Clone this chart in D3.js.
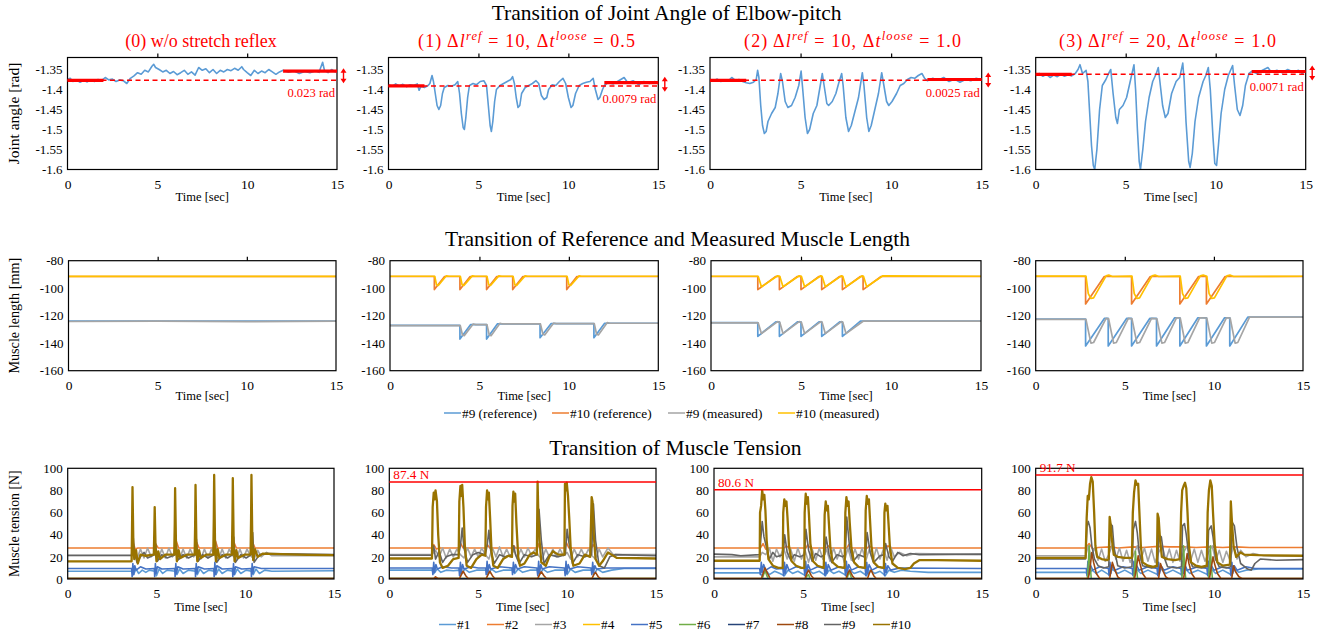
<!DOCTYPE html>
<html>
<head>
<meta charset="utf-8">
<script src="https://cdn.jsdelivr.net/npm/d3@7"></script>
<style>
  body { margin: 0; background: #fff; }
  svg { display: block; }
  text { font-family: "Liberation Serif", "Times New Roman", serif; }
</style>
</head>
<body>
<svg id="chart" width="1325" height="637"></svg>
<script>
// ---------- axis ticks ----------
const timeTicks = [0, 5, 10, 15];
const angleTicks = [-1.35, -1.4, -1.45, -1.5, -1.55, -1.6];
const lengthTicks = [-80, -100, -120, -140, -160];
const tensionTicks = [100, 80, 60, 40, 20, 0];

const subtitles = [
  { num: "(0)", plain: "w/o stretch reflex" },
  { num: "(1)", dl: "10", dt: "0.5" },
  { num: "(2)", dl: "10", dt: "1.0" },
  { num: "(3)", dl: "20", dt: "1.0" }
];

// ---------- joint angle [t, rad] ----------
const angle0 = [[0,-1.375],[0.15,-1.372],[0.3,-1.38],[0.5,-1.376],[0.7,-1.382],[0.9,-1.377],[1.1,-1.381],[1.3,-1.376],[1.5,-1.38],[1.7,-1.375],[1.9,-1.378],[2.1,-1.37],[2.3,-1.376],[2.5,-1.374],[2.7,-1.38],[2.9,-1.376],[3.1,-1.378],[3.3,-1.385],[3.5,-1.372],[3.7,-1.366],[3.9,-1.358],[4.1,-1.362],[4.3,-1.352],[4.5,-1.356],[4.7,-1.342],[4.8,-1.337],[4.9,-1.345],[5.1,-1.35],[5.3,-1.356],[5.5,-1.352],[5.7,-1.36],[5.9,-1.355],[6.1,-1.363],[6.3,-1.358],[6.5,-1.352],[6.7,-1.362],[6.9,-1.356],[7.1,-1.364],[7.3,-1.345],[7.5,-1.352],[7.7,-1.348],[7.9,-1.358],[8.1,-1.35],[8.3,-1.36],[8.5,-1.352],[8.7,-1.356],[8.9,-1.35],[9.1,-1.353],[9.3,-1.347],[9.5,-1.352],[9.7,-1.343],[9.8,-1.35],[10.0,-1.358],[10.2,-1.365],[10.4,-1.352],[10.6,-1.36],[10.8,-1.354],[11.0,-1.358],[11.2,-1.35],[11.4,-1.356],[11.6,-1.362],[11.8,-1.356],[12.0,-1.352],[12.3,-1.357],[12.6,-1.353],[12.9,-1.36],[13.2,-1.355],[13.5,-1.358],[13.8,-1.353],[14.0,-1.357],[14.2,-1.332],[14.3,-1.352],[14.5,-1.358],[14.7,-1.35],[14.9,-1.356],[15,-1.352]];
const angle1 = [[0,-1.388],[0.2,-1.392],[0.4,-1.386],[0.6,-1.391],[0.8,-1.387],[1.0,-1.393],[1.2,-1.388],[1.4,-1.39],[1.6,-1.386],[1.7,-1.402],[1.8,-1.392],[2.0,-1.395],[2.2,-1.39],[2.3,-1.385],[2.42,-1.365],[2.5,-1.38],[2.6,-1.41],[2.7,-1.44],[2.8,-1.45],[2.9,-1.44],[3.0,-1.41],[3.1,-1.395],[3.3,-1.39],[3.5,-1.392],[3.7,-1.388],[3.85,-1.38],[3.95,-1.41],[4.05,-1.46],[4.15,-1.495],[4.22,-1.5],[4.3,-1.47],[4.4,-1.42],[4.5,-1.39],[4.7,-1.385],[4.9,-1.388],[5.1,-1.38],[5.3,-1.378],[5.45,-1.39],[5.55,-1.44],[5.65,-1.49],[5.72,-1.505],[5.8,-1.48],[5.9,-1.43],[6.0,-1.4],[6.2,-1.39],[6.4,-1.385],[6.6,-1.38],[6.8,-1.375],[6.9,-1.368],[7.0,-1.385],[7.1,-1.42],[7.2,-1.445],[7.3,-1.44],[7.4,-1.41],[7.6,-1.395],[7.8,-1.39],[8.0,-1.385],[8.2,-1.378],[8.35,-1.385],[8.5,-1.415],[8.65,-1.425],[8.8,-1.42],[8.9,-1.4],[9.1,-1.388],[9.3,-1.39],[9.5,-1.38],[9.7,-1.372],[9.85,-1.385],[10.0,-1.42],[10.15,-1.445],[10.25,-1.44],[10.4,-1.41],[10.6,-1.39],[10.8,-1.385],[11.0,-1.382],[11.2,-1.38],[11.38,-1.372],[11.5,-1.4],[11.65,-1.425],[11.75,-1.42],[11.9,-1.4],[12.0,-1.39],[12.2,-1.383],[12.5,-1.386],[12.8,-1.378],[13.1,-1.37],[13.3,-1.383],[13.6,-1.378],[13.9,-1.388],[14.2,-1.38],[14.5,-1.385],[14.8,-1.38],[15,-1.384]];
const angle2 = [[0,-1.375],[0.2,-1.378],[0.4,-1.374],[0.6,-1.38],[0.8,-1.376],[1.0,-1.379],[1.2,-1.37],[1.4,-1.377],[1.6,-1.375],[1.8,-1.38],[2.0,-1.383],[2.2,-1.385],[2.4,-1.382],[2.55,-1.375],[2.63,-1.352],[2.7,-1.37],[2.8,-1.44],[2.9,-1.49],[3.0,-1.51],[3.1,-1.505],[3.2,-1.48],[3.4,-1.46],[3.6,-1.445],[3.75,-1.41],[3.9,-1.36],[4.0,-1.38],[4.15,-1.43],[4.3,-1.445],[4.5,-1.44],[4.7,-1.42],[4.9,-1.39],[5.03,-1.354],[5.12,-1.4],[5.25,-1.47],[5.38,-1.51],[5.5,-1.5],[5.7,-1.46],[5.9,-1.44],[6.05,-1.4],[6.2,-1.36],[6.3,-1.39],[6.45,-1.435],[6.55,-1.44],[6.75,-1.43],[6.95,-1.41],[7.1,-1.385],[7.27,-1.36],[7.35,-1.39],[7.5,-1.47],[7.65,-1.505],[7.8,-1.49],[8.0,-1.455],[8.2,-1.42],[8.41,-1.358],[8.5,-1.39],[8.65,-1.47],[8.77,-1.505],[8.9,-1.49],[9.1,-1.45],[9.3,-1.41],[9.48,-1.358],[9.6,-1.39],[9.75,-1.43],[9.87,-1.44],[10.05,-1.43],[10.3,-1.41],[10.5,-1.39],[10.7,-1.385],[10.9,-1.375],[11.1,-1.37],[11.3,-1.372],[11.5,-1.365],[11.7,-1.36],[11.85,-1.372],[12.0,-1.378],[12.3,-1.372],[12.6,-1.377],[12.9,-1.37],[13.2,-1.38],[13.5,-1.374],[13.8,-1.382],[14.1,-1.375],[14.4,-1.378],[14.7,-1.372],[15,-1.376]];
const angle3 = [[0,-1.365],[0.2,-1.36],[0.4,-1.367],[0.6,-1.362],[0.8,-1.37],[1.0,-1.364],[1.2,-1.368],[1.4,-1.362],[1.6,-1.367],[1.8,-1.363],[2.0,-1.366],[2.2,-1.36],[2.35,-1.35],[2.46,-1.338],[2.6,-1.36],[2.8,-1.352],[2.9,-1.38],[3.0,-1.46],[3.1,-1.54],[3.2,-1.59],[3.28,-1.6],[3.4,-1.55],[3.55,-1.45],[3.7,-1.39],[3.9,-1.375],[4.05,-1.36],[4.17,-1.35],[4.3,-1.41],[4.45,-1.47],[4.54,-1.485],[4.65,-1.45],[4.85,-1.44],[5.05,-1.42],[5.25,-1.38],[5.46,-1.338],[5.55,-1.4],[5.65,-1.5],[5.75,-1.58],[5.82,-1.6],[5.95,-1.55],[6.1,-1.48],[6.3,-1.42],[6.5,-1.38],[6.7,-1.36],[6.81,-1.345],[6.9,-1.38],[7.05,-1.44],[7.2,-1.47],[7.35,-1.46],[7.55,-1.41],[7.8,-1.38],[8.0,-1.37],[8.17,-1.334],[8.25,-1.38],[8.35,-1.48],[8.5,-1.58],[8.58,-1.595],[8.7,-1.56],[8.85,-1.48],[9.05,-1.42],[9.3,-1.38],[9.45,-1.365],[9.59,-1.345],[9.7,-1.4],[9.85,-1.52],[9.95,-1.585],[10.05,-1.59],[10.15,-1.54],[10.3,-1.46],[10.5,-1.4],[10.7,-1.365],[10.94,-1.34],[11.05,-1.39],[11.2,-1.45],[11.35,-1.465],[11.5,-1.44],[11.65,-1.39],[11.85,-1.36],[12.0,-1.355],[12.3,-1.36],[12.6,-1.352],[12.9,-1.345],[13.1,-1.357],[13.4,-1.352],[13.7,-1.358],[14.0,-1.35],[14.3,-1.356],[14.6,-1.352],[14.8,-1.36],[15,-1.354]];

// mean angle at start (0-2 s) and end (12-15 s), and the label
const angleStart = [-1.377, -1.391, -1.377, -1.362];
const angleEnd = [-1.354, -1.383, -1.375, -1.355];
const angleDiff = ["0.023 rad", "0.0079 rad", "0.0025 rad", "0.0071 rad"];

// ---------- muscle length [t, mm] ----------
const len0Ref9 = [[0,-124],[15,-124]];
const len0Ref10 = [[0,-91.5],[15,-91.5]];
const len0Meas9 = [[0,-124.2],[5,-124],[10,-124.3],[15,-124]];
const len0Meas10 = [[0,-91.4],[15,-91.4]];

const len1Ref9 = [[0,-127],[3.91,-127],[3.91,-137],[4.5,-126.5],[5.4,-126.5],[5.4,-137],[6.0,-126],[8.39,-126],[8.39,-136],[9.0,-125.8],[11.4,-125.8],[11.4,-136],[12.0,-125.5],[15,-125.5]];
const len1Ref10 = [[0,-91.5],[2.48,-91.5],[2.48,-101],[3.05,-91.5],[3.91,-91.5],[3.91,-101],[4.48,-91.5],[5.4,-91.5],[5.4,-101],[5.97,-91.5],[6.86,-91.5],[6.86,-101],[7.43,-91.5],[9.88,-91.5],[9.88,-101],[10.45,-91.5],[15,-91.5]];
const len1Meas9 = [[0,-127.2],[3.93,-127.2],[4.05,-134],[4.15,-134.5],[4.65,-126],[4.8,-126.5],[5.42,-126.5],[5.55,-134],[5.65,-134.5],[6.15,-125.5],[6.3,-126],[8.41,-126],[8.55,-133.5],[8.65,-134],[9.15,-125.3],[9.3,-125.8],[11.42,-125.8],[11.55,-133.5],[11.65,-134],[12.15,-125],[12.3,-125.5],[15,-125.5]];
const len1Meas10 = [[0,-91.3],[2.5,-91.3],[2.6,-97.5],[2.7,-98],[3.15,-91],[3.3,-91.3],[3.93,-91.3],[4.03,-97.5],[4.13,-98],[4.6,-91],[4.75,-91.3],[5.42,-91.3],[5.52,-97.5],[5.62,-98],[6.08,-91],[6.25,-91.3],[6.88,-91.3],[6.98,-97.5],[7.08,-98],[7.55,-91],[7.7,-91.3],[9.9,-91.3],[10.0,-97.5],[10.1,-98],[10.57,-91],[10.7,-91.3],[15,-91.3]];

const len2Ref9 = [[0,-125],[2.6,-125],[2.6,-135],[3.6,-124.5],[3.8,-124.5],[3.8,-135],[4.8,-124.5],[5.0,-124.5],[5.0,-135],[6.0,-124.5],[6.15,-124.5],[6.15,-135],[7.15,-124.5],[7.3,-124.5],[7.3,-135],[8.3,-124],[15,-124]];
const len2Ref10 = [[0,-91.5],[2.6,-91.5],[2.6,-101],[3.6,-91.5],[3.8,-91.5],[3.8,-101],[4.8,-91.5],[5.0,-91.5],[5.0,-101],[6.0,-91.5],[6.15,-91.5],[6.15,-101],[7.15,-91.5],[7.3,-91.5],[7.3,-101],[8.3,-91.5],[8.45,-91.5],[8.45,-101],[9.45,-91.5],[15,-91.5]];
const len2Meas9 = [[0,-125.2],[2.62,-125.2],[2.8,-133],[3.7,-124.3],[3.82,-124.8],[4.0,-133],[4.9,-124.3],[5.02,-124.8],[5.2,-133],[6.1,-124.3],[6.17,-124.8],[6.35,-133],[7.25,-124.3],[7.32,-124.8],[7.5,-133],[8.45,-124],[15,-124]];
const len2Meas10 = [[0,-91.3],[2.62,-91.3],[2.8,-99],[3.7,-91],[3.82,-91.3],[4.0,-99],[4.9,-91],[5.02,-91.3],[5.2,-99],[6.1,-91],[6.17,-91.3],[6.35,-99],[7.25,-91],[7.32,-91.3],[7.5,-99],[8.4,-91],[8.47,-91.3],[8.65,-99],[9.55,-91],[15,-91.3]];

const len3Ref9 = [[0,-122.5],[2.8,-122.5],[2.8,-142],[3.85,-122],[4.07,-122],[4.07,-142],[5.1,-122],[5.38,-122],[5.38,-142],[6.4,-122],[6.78,-122],[6.78,-142],[7.8,-121.5],[8.09,-121.5],[8.09,-142],[9.1,-121.5],[9.58,-121.5],[9.58,-142],[10.6,-121.5],[10.89,-121.5],[10.89,-142],[11.9,-121],[15,-121]];
const len3Ref10 = [[0,-91.5],[2.8,-91.5],[2.8,-111.5],[3.85,-91.5],[5.38,-91.5],[5.38,-111.5],[6.43,-91.5],[8.09,-91.5],[8.09,-111.5],[9.14,-91.5],[9.58,-91.5],[9.58,-111.5],[10.63,-91.5],[15,-91.5]];
const len3Meas9 = [[0,-122.7],[2.82,-122.7],[3.1,-140],[3.25,-139.5],[3.95,-122],[4.09,-122.2],[4.37,-140],[4.52,-139.5],[5.2,-122],[5.4,-122.2],[5.68,-140],[5.83,-139.5],[6.5,-122],[6.8,-122.2],[7.08,-140],[7.23,-139.5],[7.9,-121.5],[8.11,-121.7],[8.39,-140],[8.54,-139.5],[9.2,-121.5],[9.6,-121.7],[9.88,-140],[10.03,-139.5],[10.7,-121.5],[10.91,-121.7],[11.19,-140],[11.34,-139.5],[12.0,-121],[15,-121]];
const len3Meas10 = [[0,-91.2],[2.82,-91.2],[2.95,-104],[3.1,-107.5],[3.25,-107],[3.95,-91],[4.1,-90.5],[4.3,-91.5],[5.4,-91.2],[5.53,-104],[5.68,-107.5],[5.83,-107],[6.53,-91],[6.7,-90.5],[6.9,-91.5],[8.11,-91.2],[8.24,-104],[8.39,-107.5],[8.54,-107],[9.24,-91],[9.4,-90.5],[9.6,-91.3],[9.73,-104],[9.88,-107.5],[10.03,-107],[10.73,-91],[10.9,-90.5],[11.1,-91.5],[15,-91.3]];

const lengthNames = ["#9 (reference)", "#10 (reference)", "#9 (measured)", "#10 (measured)"];
const lengthColors = ["#5B9BD5", "#ED7D31", "#A5A5A5", "#FFC000"];

// ---------- muscle tension [t, N], series #1 .. #10 ----------
const zero = [[0,0.3],[15,0.3]];

const ten0 = [
  [[0,7],[3.6,7],[3.7,4],[3.85,9],[4.0,5],[4.2,8],[4.4,6],[4.6,8],[4.9,7],[5.0,3],[5.15,9],[5.35,5],[5.6,8],[6.05,7],[6.15,4],[6.3,9],[6.5,5],[6.8,8],[7.2,7],[7.3,4],[7.45,9],[7.65,5],[7.95,8],[8.25,7],[8.35,4],[8.5,9],[8.7,5],[9.0,8],[9.3,7],[9.4,4],[9.55,9],[9.75,5],[10.05,8],[10.35,7],[10.45,4],[10.6,9],[10.8,5],[11.1,8],[11.5,7],[15,7.5]],
  [[0,28],[3.6,28],[3.7,32],[3.8,27],[3.95,28],[4.9,28],[4.98,31],[5.1,28],[6.05,28],[6.12,34],[6.25,28],[7.2,28],[7.27,33],[7.4,28],[8.25,28],[8.33,34],[8.45,28],[9.3,28],[9.37,33],[9.5,28],[10.35,28],[10.42,33],[10.55,28],[15,28]],
  [[0,21],[3.6,21],[3.7,24],[3.9,18],[4.1,27],[4.3,19],[4.5,28],[4.7,20],[4.9,24],[5.1,18],[5.3,27],[5.5,19],[5.7,28],[5.9,20],[6.1,24],[6.3,18],[6.5,27],[6.7,19],[6.9,27],[7.1,20],[7.3,24],[7.5,18],[7.7,27],[7.9,19],[8.1,27],[8.3,21],[8.5,18],[8.7,27],[8.9,19],[9.1,27],[9.3,21],[9.5,18],[9.7,27],[9.9,19],[10.1,27],[10.3,21],[10.5,18],[10.7,26],[10.9,20],[11.2,24],[11.5,21],[15,21]],
  zero,
  [[0,9.5],[3.6,9.5],[3.63,2],[3.67,14],[3.72,4],[3.78,12],[3.85,8],[4.1,11],[4.4,9],[4.88,9.5],[4.9,2],[4.94,14],[4.98,5],[5.05,11],[5.3,9],[6.03,9.5],[6.05,2],[6.09,14],[6.13,5],[6.2,11],[6.5,9],[7.18,9.5],[7.2,2],[7.24,14],[7.28,5],[7.35,11],[7.7,9],[8.23,9.5],[8.25,2],[8.29,15],[8.33,4],[8.4,12],[8.7,9],[9.28,9.5],[9.3,2],[9.34,14],[9.38,4],[9.45,11],[9.8,9],[10.33,9.5],[10.35,2],[10.39,14],[10.43,5],[10.5,11],[10.9,9.5],[15,9.5]],
  zero,
  zero,
  [[0,0.5],[15,0.5]],
  [[0,21.5],[3.6,21.5],[3.68,40],[3.75,25],[3.9,15],[4.1,20],[4.3,24],[4.5,19],[4.9,22],[4.95,32],[5.05,16],[5.3,22],[5.6,19],[6.05,22],[6.1,35],[6.2,17],[6.5,22],[6.8,19],[7.2,22],[7.25,36],[7.35,16],[7.6,22],[7.9,19],[8.25,22],[8.3,38],[8.4,15],[8.7,22],[9.0,19],[9.3,22],[9.35,38],[9.45,15],[9.75,22],[10.05,19],[10.35,22],[10.42,42],[10.5,15],[10.8,22],[11.2,23],[15,22]],
  [[0,16],[3.6,16],[3.62,40],[3.65,83],[3.7,30],[3.75,18],[3.85,26],[3.95,14],[4.1,22],[4.4,21],[4.85,22],[4.88,45],[4.9,65],[4.95,28],[5.0,16],[5.1,25],[5.2,18],[5.5,22],[6.0,22],[6.03,50],[6.05,82],[6.1,30],[6.15,16],[6.25,26],[6.35,19],[6.7,22],[7.15,22],[7.18,50],[7.2,85],[7.25,30],[7.3,16],[7.4,26],[7.5,19],[7.8,22],[8.2,22],[8.23,55],[8.25,94],[8.3,30],[8.35,16],[8.45,27],[8.55,19],[8.9,22],[9.25,22],[9.28,55],[9.3,91],[9.35,30],[9.4,16],[9.5,26],[9.6,19],[9.95,22],[10.3,22],[10.33,55],[10.35,94],[10.4,32],[10.45,17],[10.55,27],[10.7,20],[11.0,23],[12.0,22.5],[13.5,21.8],[15,21.5]]
];

const ten1 = [
  [[0,8],[2.4,8],[2.5,5],[2.7,9],[2.9,6],[3.2,8],[3.6,7.5],[3.94,8],[4.05,4],[4.25,9],[4.5,6],[4.9,8],[5.44,8],[5.55,4],[5.75,9],[6.0,6],[6.4,8],[6.92,8],[7.05,5],[7.25,9],[7.5,6],[7.9,8],[8.34,8],[8.45,4],[8.65,9],[8.9,6],[9.3,8],[9.88,8],[10.0,4],[10.2,9],[10.45,6],[10.9,8],[11.38,8],[11.5,4],[11.7,9],[12.0,6],[12.5,8],[13.2,9.5],[15,9.5]],
  [[0,28],[2.4,28],[2.5,31],[2.65,27],[2.8,28],[3.94,28],[4.02,32],[4.15,28],[5.44,28],[5.52,31],[5.65,28],[6.92,28],[7.0,30],[7.1,28],[8.34,28],[8.42,32],[8.55,28],[9.88,28],[9.96,33],[10.1,28],[11.38,28],[11.46,31],[11.6,28],[15,28]],
  [[0,22],[2.4,22],[2.6,26],[2.8,20],[3.0,28],[3.2,19],[3.4,27],[3.6,20],[3.8,27],[4.0,22],[4.2,19],[4.4,28],[4.6,20],[4.8,27],[5.0,20],[5.2,28],[5.4,22],[5.6,18],[5.8,28],[6.0,20],[6.2,29],[6.4,20],[6.6,27],[6.8,20],[7.0,26],[7.2,19],[7.4,27],[7.6,20],[7.8,28],[8.0,21],[8.2,27],[8.4,21],[8.6,18],[8.8,27],[9.0,20],[9.2,27],[9.4,20],[9.6,27],[9.8,21],[10.0,24],[10.2,18],[10.4,27],[10.6,20],[10.8,27],[11.0,20],[11.2,27],[11.4,21],[11.6,18],[11.8,27],[12.0,20],[12.3,28],[12.6,22],[15,22]],
  zero,
  [[0,10],[2.42,10],[2.45,4],[2.5,15],[2.55,6],[2.62,13],[2.7,9],[3.0,11],[3.5,10],[3.92,10],[3.95,3],[4.0,15],[4.05,5],[4.12,13],[4.2,9],[4.6,11],[5.0,10],[5.42,10],[5.45,4],[5.5,16],[5.55,6],[5.62,13],[5.7,9],[6.2,11],[6.9,10],[6.93,4],[6.98,15],[7.03,6],[7.1,13],[7.2,9],[7.6,11],[8.3,10],[8.35,3],[8.4,16],[8.45,5],[8.52,13],[8.6,9],[9.0,11],[9.85,10],[9.89,3],[9.94,16],[9.99,5],[10.06,13],[10.15,9],[10.6,11],[11.35,10],[11.39,4],[11.44,15],[11.49,6],[11.56,12],[11.65,9],[12.2,10],[15,10]],
  zero,
  zero,
  [[0,0.3],[2.5,0.3],[2.6,2],[2.75,0.3],[3.95,0.3],[4.05,4],[4.15,7],[4.3,3],[4.45,0.3],[5.45,0.3],[5.55,4],[5.65,7],[5.8,3],[5.95,0.3],[8.35,0.3],[8.45,4],[8.55,6.5],[8.7,3],[8.85,0.3],[11.4,0.3],[11.5,4],[11.6,6],[11.75,2],[11.9,0.3],[15,0.3]],
  [[0,21.5],[2.4,21.5],[2.5,30],[2.6,18],[2.8,25],[3.0,15],[3.2,20],[3.5,22],[3.9,22],[4.0,30],[4.1,46],[4.2,28],[4.4,15],[4.7,22],[5.0,24],[5.4,22],[5.5,30],[5.6,44],[5.7,26],[5.9,14],[6.2,22],[6.5,20],[6.9,22],[7.0,30],[7.1,22],[7.3,14],[7.6,22],[8.0,20],[8.3,22],[8.42,63],[8.55,35],[8.7,14],[9.0,22],[9.5,20],[9.9,22],[10.0,45],[10.1,33],[10.3,14],[10.6,22],[11.0,20],[11.38,22],[11.48,68],[11.6,35],[11.8,12],[12.1,10],[12.4,20],[12.7,22],[15,21]],
  [[0,18.5],[2.4,18.5],[2.44,65],[2.5,78],[2.55,72],[2.6,80],[2.68,70],[2.75,40],[2.85,15],[3.0,10],[3.3,12],[3.6,18],[3.9,19],[3.94,70],[4.0,84],[4.05,75],[4.1,85],[4.17,65],[4.25,30],[4.35,12],[4.6,10],[4.9,18],[5.2,22],[5.4,21],[5.44,65],[5.5,80],[5.55,72],[5.6,78],[5.67,55],[5.75,25],[5.85,12],[6.1,10],[6.4,18],[6.7,21],[6.9,20],[6.93,66],[6.98,79],[7.03,70],[7.08,77],[7.15,50],[7.25,20],[7.35,12],[7.6,14],[7.9,22],[8.1,24],[8.3,22],[8.34,88],[8.38,60],[8.45,35],[8.55,15],[8.8,12],[9.0,20],[9.2,25],[9.5,22],[9.85,22],[9.88,86],[9.93,80],[9.98,87],[10.05,75],[10.12,55],[10.2,28],[10.35,12],[10.7,14],[11.0,22],[11.3,20],[11.38,74],[11.43,70],[11.5,40],[11.6,18],[11.8,12],[12.0,16],[12.3,24],[12.5,22],[12.8,19],[15,18.5]]
];

const ten2 = [
  [[0,5.5],[2.56,5.5],[2.7,3],[2.9,8],[3.1,4],[3.4,7],[3.7,5],[3.95,3],[4.15,8],[4.4,5],[4.7,7],[5.12,3],[5.3,8],[5.55,5],[5.9,7],[6.25,3],[6.45,8],[6.7,5],[7.0,7],[7.43,3],[7.6,8],[7.85,5],[8.2,7],[8.55,3],[8.75,8],[9.0,5],[9.3,7],[9.6,3],[9.8,8],[10.1,6],[10.5,8],[11.0,7],[12,6],[15,6]],
  [[0,28],[2.6,28],[2.75,32],[2.9,27],[3.1,28],[3.95,28],[4.05,30],[4.2,28],[5.15,28],[5.25,31],[5.4,28],[6.3,28],[6.4,30],[6.55,28],[7.45,28],[7.55,31],[7.7,28],[8.6,28],[8.7,30],[8.85,28],[9.65,28],[9.75,30],[9.9,28],[15,28]],
  [[0,20],[2.56,20],[2.7,24],[2.9,22],[3.1,28],[3.3,16],[3.5,27],[3.7,20],[3.9,28],[4.1,18],[4.3,27],[4.5,16],[4.7,28],[4.9,18],[5.1,26],[5.3,15],[5.5,27],[5.7,17],[5.9,28],[6.1,18],[6.3,27],[6.5,16],[6.7,28],[6.9,18],[7.1,27],[7.3,15],[7.5,28],[7.7,17],[7.9,27],[8.1,18],[8.3,28],[8.5,16],[8.7,27],[8.9,16],[9.1,28],[9.3,18],[9.5,27],[9.7,17],[9.9,29],[10.1,20],[10.4,24],[10.8,21],[11.3,23],[15,22]],
  zero,
  [[0,9.5],[2.56,9.5],[2.6,4],[2.65,15],[2.7,6],[2.78,13],[2.9,8],[3.2,11],[3.5,9],[3.86,9.5],[3.9,3],[3.95,15],[4.0,5],[4.08,13],[4.2,8],[4.6,11],[5.05,9.5],[5.09,3],[5.14,16],[5.19,5],[5.27,13],[5.4,8],[5.8,11],[6.18,9.5],[6.22,3],[6.27,15],[6.32,5],[6.4,13],[6.55,8],[7.0,11],[7.33,9.5],[7.37,3],[7.42,16],[7.47,5],[7.55,13],[7.7,8],[8.1,11],[8.47,9.5],[8.51,3],[8.56,15],[8.61,5],[8.69,13],[8.85,8],[9.2,11],[9.52,9.5],[9.56,3],[9.61,14],[9.66,6],[9.74,12],[9.9,8],[10.4,10],[15,9.5]],
  [[0,0],[2.7,0],[2.8,5],[2.88,7],[2.96,3],[3.05,0],[5.15,0],[5.22,3],[5.3,4],[5.38,0],[7.45,0],[7.52,4],[7.6,6],[7.68,2],[7.75,0],[15,0]],
  zero,
  [[0,0.3],[2.65,0.3],[2.75,5],[2.85,10],[3.0,5],[3.15,0.3],[5.1,0.3],[5.2,5],[5.3,8],[5.45,3],[5.6,0.3],[7.4,0.3],[7.5,5],[7.6,8],[7.75,3],[7.9,0.3],[8.6,0.3],[8.7,5],[8.8,8],[8.95,3],[9.1,0.3],[15,0.3]],
  [[0,22.5],[1.0,22],[1.5,21],[2.56,22],[2.62,35],[2.7,52],[2.8,38],[2.95,28],[3.1,18],[3.3,24],[3.5,20],[3.88,22],[3.96,40],[4.1,24],[4.3,17],[4.5,22],[4.8,20],[5.08,22],[5.15,45],[5.3,26],[5.5,16],[5.7,23],[6.0,20],[6.2,22],[6.28,38],[6.45,22],[6.6,15],[6.9,22],[7.2,20],[7.36,22],[7.44,56],[7.6,28],[7.8,16],[8.1,22],[8.4,20],[8.5,22],[8.58,42],[8.75,24],[8.95,15],[9.3,21],[9.55,22],[9.62,32],[9.8,20],[10.0,16],[10.3,24],[10.6,21],[11.0,23],[11.5,22],[15,22.5]],
  [[0,16.5],[2.56,16.5],[2.58,60],[2.64,66],[2.7,80],[2.76,72],[2.82,76],[2.88,62],[2.95,35],[3.05,18],[3.3,12],[3.6,10],[3.85,10],[3.88,60],[3.94,72],[4.0,66],[4.06,70],[4.12,55],[4.2,30],[4.35,16],[4.6,12],[4.9,10],[5.06,10],[5.08,60],[5.14,77],[5.2,68],[5.26,74],[5.32,58],[5.4,32],[5.55,16],[5.8,12],[6.15,10],[6.2,58],[6.26,70],[6.32,62],[6.38,66],[6.44,50],[6.52,28],[6.65,15],[6.95,11],[7.32,10],[7.36,60],[7.42,74],[7.48,66],[7.54,70],[7.6,52],[7.7,28],[7.85,15],[8.1,11],[8.46,10],[8.5,62],[8.56,75],[8.62,68],[8.68,72],[8.74,54],[8.82,30],[8.95,15],[9.2,11],[9.52,10],[9.55,60],[9.6,68],[9.66,62],[9.72,66],[9.78,50],[9.86,28],[10.0,14],[10.3,10],[10.7,9],[11.0,10],[11.2,14],[11.5,17],[12.5,17],[15,16.5]]
];

const ten3 = [
  [[0,6],[2.8,6],[2.95,3],[3.15,8],[3.4,5],[3.7,8],[4.1,4],[4.3,9],[4.6,5],[5.0,8],[5.45,4],[5.65,9],[5.9,5],[6.3,8],[6.84,4],[7.05,9],[7.3,5],[7.7,8],[8.18,4],[8.4,9],[8.65,5],[9.1,8],[9.64,4],[9.85,9],[10.1,5],[10.5,8],[10.95,4],[11.15,9],[11.4,6],[11.8,8],[12.5,9],[15,9]],
  [[0,28],[2.8,28],[3.0,32],[3.2,27],[3.5,28.5],[4.2,29],[4.6,28],[5.5,29],[6.0,28.5],[6.9,29.5],[7.5,29],[8.3,29],[9.0,28.5],[9.8,29],[10.5,28.5],[11.2,29],[12,28.5],[15,28.5]],
  [[0,21],[2.8,21],[2.95,30],[3.1,20],[3.3,28],[3.5,17],[3.7,27],[3.9,16],[4.1,22],[4.3,31],[4.5,18],[4.7,28],[4.9,16],[5.1,26],[5.3,15],[5.5,22],[5.7,30],[5.9,17],[6.1,28],[6.3,16],[6.5,27],[6.7,15],[6.9,24],[7.1,30],[7.3,17],[7.5,27],[7.7,15],[7.9,26],[8.1,16],[8.3,24],[8.5,30],[8.7,17],[8.9,27],[9.1,15],[9.3,26],[9.5,16],[9.7,24],[9.9,30],[10.1,17],[10.3,26],[10.5,15],[10.7,25],[10.9,17],[11.1,30],[11.3,18],[11.5,26],[11.8,20],[12.2,23],[12.8,21],[15,20.5]],
  zero,
  [[0,9.5],[2.84,9.5],[2.88,3],[2.93,16],[2.98,5],[3.06,13],[3.2,8],[3.6,11],[4.08,9.5],[4.12,3],[4.17,15],[4.22,5],[4.3,12],[4.45,8],[4.9,11],[5.42,9.5],[5.46,3],[5.51,16],[5.56,5],[5.64,13],[5.8,8],[6.3,11],[6.81,9.5],[6.85,3],[6.9,15],[6.95,5],[7.03,12],[7.2,8],[7.7,11],[8.15,9.5],[8.19,3],[8.24,16],[8.29,5],[8.37,13],[8.5,8],[9.1,11],[9.61,9.5],[9.65,3],[9.7,16],[9.75,5],[9.83,13],[10.0,8],[10.5,11],[10.92,9.5],[10.96,3],[11.01,15],[11.06,5],[11.14,12],[11.3,8],[11.8,11],[12.3,9.5],[15,9.5]],
  [[0,0],[2.9,0],[2.96,15],[3.0,30],[3.05,14],[3.12,0],[5.5,0],[5.56,12],[5.6,25],[5.65,10],[5.72,0],[8.2,0],[8.26,14],[8.3,30],[8.35,12],[8.42,0],[9.7,0],[9.76,14],[9.8,30],[9.85,12],[9.92,0],[15,0]],
  zero,
  [[0,0.3],[2.95,0.3],[3.05,10],[3.15,24],[3.25,15],[3.4,5],[3.6,0.3],[4.15,0.3],[4.3,15],[4.45,8],[4.6,2],[4.75,0.3],[5.55,0.3],[5.65,10],[5.75,21],[5.85,14],[6.0,5],[6.2,0.3],[6.9,0.3],[7.0,14],[7.15,7],[7.3,2],[7.45,0.3],[8.3,0.3],[8.4,12],[8.5,23],[8.6,14],[8.75,5],[8.95,0.3],[9.75,0.3],[9.85,10],[9.95,20],[10.05,13],[10.2,5],[10.4,0.3],[11.0,0.3],[11.1,12],[11.2,7],[11.4,2],[11.6,0.3],[15,0.3]],
  [[0,18],[2.8,18],[2.88,48],[2.95,52],[3.05,46],[3.15,30],[3.3,18],[3.5,12],[3.8,10],[4.1,11],[4.18,50],[4.3,48],[4.4,28],[4.6,12],[5.0,10],[5.4,11],[5.48,45],[5.6,52],[5.7,42],[5.8,25],[6.0,12],[6.5,10],[6.84,11],[6.9,40],[7.05,38],[7.2,20],[7.4,11],[7.9,10],[8.18,11],[8.24,48],[8.35,50],[8.45,40],[8.6,20],[8.8,11],[9.3,10],[9.64,11],[9.7,44],[9.85,48],[9.95,38],[10.1,18],[10.3,11],[10.7,10],[10.95,11],[11.0,52],[11.15,48],[11.3,28],[11.5,14],[11.9,9],[12.1,8],[12.3,14],[12.6,18],[13.5,17],[15,17.5]],
  [[0,19],[2.8,19],[2.86,55],[2.92,75],[2.98,72],[3.05,86],[3.12,92],[3.2,88],[3.28,60],[3.35,30],[3.45,20],[3.7,18],[4.0,17],[4.1,18],[4.15,56],[4.2,50],[4.28,35],[4.38,22],[4.6,20],[5.0,19],[5.4,19],[5.45,60],[5.52,78],[5.6,89],[5.68,85],[5.75,86],[5.82,60],[5.9,30],[6.0,15],[6.3,12],[6.6,11],[6.8,12],[6.84,59],[6.9,55],[6.98,35],[7.08,20],[7.4,18],[7.8,17],[8.1,18],[8.16,60],[8.22,80],[8.3,84],[8.38,87],[8.45,82],[8.52,60],[8.6,30],[8.72,15],[9.0,12],[9.3,11],[9.6,12],[9.65,60],[9.72,80],[9.8,89],[9.88,84],[9.95,60],[10.05,30],[10.2,15],[10.5,12],[10.9,13],[10.95,70],[11.0,55],[11.1,30],[11.25,20],[11.5,24],[11.7,22],[12.5,21.5],[15,21]]
];

const tensionNames = ["#1","#2","#3","#4","#5","#6","#7","#8","#9","#10"];
const tensionColors = ["#5B9BD5","#ED7D31","#A5A5A5","#FFC000","#4472C4","#70AD47","#264478","#9E480E","#636363","#997300"];
// peak tension line and label (panels 1-3)
const tensionMax = [null, 87.6, 80.6, 94];
const tensionMaxLabel = [null, "87.4 N", "80.6 N", "91.7 N"];

// ---------- layout ----------
const svg = d3.select("#chart");
const rowBoxes = [
  { t: 57.5, b: 169.5, timeY: 31.5, cols: [[67.5, 337], [388.5, 658.3], [710, 981.7], [1035.7, 1305.7]] },
  { t: 260.7, b: 370.7, timeY: 29, cols: [[68.5, 336], [390, 658.3], [711, 981], [1035.7, 1303]] },
  { t: 468.3, b: 579, timeY: 32, cols: [[67.7, 334], [389.3, 656], [714, 981.7], [1035.7, 1303]] }
];
let clipId = 0;

function drawPanel(row, col, yDomain, yTickVals, series, topTicks) {
  const rb = rowBoxes[row];
  const [l, r] = rb.cols[col];
  const x = d3.scaleLinear().domain([0, 15]).range([l, r]);
  const y = d3.scaleLinear().domain(yDomain).range([rb.b, rb.t]);
  const g = svg.append("g");

  const id = "clip" + (clipId++);
  svg.append("clipPath").attr("id", id)
    .append("rect").attr("x", l).attr("y", rb.t).attr("width", r - l).attr("height", rb.b - rb.t);

  const line = d3.line().x(d => x(d[0])).y(d => y(d[1]));
  const lines = g.append("g").attr("clip-path", `url(#${id})`);
  series.forEach(s => {
    lines.append("path")
      .attr("d", line(s.data))
      .attr("fill", "none")
      .attr("stroke", s.color)
      .attr("stroke-width", s.w || 1.5)
      .attr("stroke-linejoin", "round");
  });

  g.append("rect")
    .attr("x", l).attr("y", rb.t).attr("width", r - l).attr("height", rb.b - rb.t)
    .attr("fill", "none").attr("stroke", "#000").attr("stroke-width", 1.2);

  const ya = g.append("g").attr("transform", `translate(${l},0)`)
    .call(d3.axisLeft(y).tickValues(yTickVals).tickSize(0).tickPadding(5).tickFormat(d => String(d)));
  ya.select(".domain").remove();
  ya.selectAll("text").attr("font-size", 13).attr("fill", "#000")
    .style("font-family", "'Liberation Serif', serif");

  const xa = g.append("g").attr("transform", `translate(0,${rb.b})`)
    .call(d3.axisBottom(x).tickValues(timeTicks).tickSize(0).tickFormat(d3.format("d")));
  xa.select(".domain").remove();
  xa.selectAll("text").attr("font-size", 13.5).attr("fill", "#000").attr("y", 19).attr("dy", 0)
    .style("font-family", "'Liberation Serif', serif");

  if (topTicks) {
    const ta = g.append("g").attr("transform", `translate(0,${rb.t})`)
      .call(d3.axisTop(x).tickValues([5, 10]).tickSize(4).tickFormat(""));
    ta.select(".domain").remove();
    ta.selectAll("line").attr("stroke", "#000").attr("stroke-width", 1.2);
  }

  g.append("text")
    .attr("x", (l + r) / 2).attr("y", rb.b + rb.timeY)
    .attr("text-anchor", "middle").attr("font-size", 12.5)
    .text("Time [sec]");

  return { x, y, l, r, t: rb.t, b: rb.b };
}

function yLabel(row, text, size, bx) {
  const rb = rowBoxes[row];
  svg.append("text")
    .attr("transform", `translate(${bx},${(rb.t + rb.b) / 2}) rotate(-90)`)
    .attr("text-anchor", "middle").attr("font-size", size)
    .text(text);
}

function title(text, x, y) {
  svg.append("text").attr("x", x).attr("y", y).attr("font-size", 21.5).text(text);
}

// ---------- row 1: joint angle ----------
title("Transition of Joint Angle of Elbow-pitch", 491.7, 20);
const subCenters = [201, 526.5, 852.5, 1167.5];
const angles = [angle0, angle1, angle2, angle3];

angles.forEach((data, i) => {
  const p = drawPanel(0, i, [-1.6, -1.32], angleTicks, [{ data, color: "#5B9BD5", w: 1.6 }], true);

  // reference levels
  const red = "#FF0000";
  svg.append("line").attr("x1", p.x(0)).attr("x2", p.x(15))
    .attr("y1", p.y(angleStart[i])).attr("y2", p.y(angleStart[i]))
    .attr("stroke", red).attr("stroke-width", 1.5).attr("stroke-dasharray", "5,3.5");
  svg.append("line").attr("x1", p.x(0)).attr("x2", p.x(2))
    .attr("y1", p.y(angleStart[i])).attr("y2", p.y(angleStart[i]))
    .attr("stroke", red).attr("stroke-width", 3.2);
  svg.append("line").attr("x1", p.x(12)).attr("x2", p.x(15))
    .attr("y1", p.y(angleEnd[i])).attr("y2", p.y(angleEnd[i]))
    .attr("stroke", red).attr("stroke-width", 3.2);

  // double arrow
  const mid = (p.y(angleStart[i]) + p.y(angleEnd[i])) / 2;
  const ax = p.r + 6.5;
  const y1 = mid - 7.5, y2 = mid + 7.5;
  svg.append("line").attr("x1", ax).attr("x2", ax).attr("y1", y1 + 3).attr("y2", y2 - 3)
    .attr("stroke", red).attr("stroke-width", 1.4);
  svg.append("path").attr("d", `M${ax},${y1} L${ax - 3},${y1 + 4.5} L${ax + 3},${y1 + 4.5} Z`).attr("fill", red);
  svg.append("path").attr("d", `M${ax},${y2} L${ax - 3},${y2 - 4.5} L${ax + 3},${y2 - 4.5} Z`).attr("fill", red);

  svg.append("text").attr("x", p.r - 2).attr("y", p.y(angleStart[i]) + 17)
    .attr("text-anchor", "end").attr("font-size", 12.6).attr("fill", red)
    .text(angleDiff[i]);

  // subtitle
  const s = subtitles[i];
  const st = svg.append("text").attr("x", subCenters[i]).attr("y", 47)
    .attr("text-anchor", "middle").attr("font-size", 18).attr("fill", red);
  if (s.plain) {
    st.text(`${s.num} ${s.plain}`);
  } else {
    st.attr("textLength", 217).attr("lengthAdjust", "spacing");
    st.append("tspan").text(`${s.num} Δ`);
    st.append("tspan").attr("font-style", "italic").text("l");
    st.append("tspan").attr("font-style", "italic").attr("font-size", 12.5).attr("dy", -7).text("ref");
    st.append("tspan").attr("dy", 7).text(` = ${s.dl}, Δ`);
    st.append("tspan").attr("font-style", "italic").text("t");
    st.append("tspan").attr("font-style", "italic").attr("font-size", 12.5).attr("dy", -7).text("loose");
    st.append("tspan").attr("dy", 7).text(` = ${s.dt}`);
  }
});
yLabel(0, "Joint angle [rad]", 15.5, 19);

// ---------- row 2: muscle length ----------
title("Transition of Reference and Measured Muscle Length", 445, 246);
const lengths = [
  [len0Ref9, len0Ref10, len0Meas9, len0Meas10],
  [len1Ref9, len1Ref10, len1Meas9, len1Meas10],
  [len2Ref9, len2Ref10, len2Meas9, len2Meas10],
  [len3Ref9, len3Ref10, len3Meas9, len3Meas10]
];
lengths.forEach((set, i) => {
  drawPanel(1, i, [-160, -80], lengthTicks,
    set.map((data, k) => ({ data, color: lengthColors[k], w: 1.7 })), true);
});
yLabel(1, "Muscle length [mm]", 14.2, 19);

const legend1X = [444, 552, 668, 778];
lengthNames.forEach((name, k) => {
  svg.append("line").attr("x1", legend1X[k]).attr("x2", legend1X[k] + 17)
    .attr("y1", 413).attr("y2", 413).attr("stroke", lengthColors[k]).attr("stroke-width", 1.5);
  svg.append("text").attr("x", legend1X[k] + 18).attr("y", 417.5).attr("font-size", 13.3).text(name);
});

// ---------- row 3: muscle tension ----------
title("Transition of Muscle Tension", 549.3, 455);
const tensions = [ten0, ten1, ten2, ten3];
tensions.forEach((set, i) => {
  const p = drawPanel(2, i, [0, 100], tensionTicks,
    set.map((data, k) => ({ data, color: tensionColors[k], w: k === 9 ? 2.3 : 1.6 })), false);
  if (tensionMax[i] !== null) {
    svg.append("line").attr("x1", p.l).attr("x2", p.r)
      .attr("y1", p.y(tensionMax[i])).attr("y2", p.y(tensionMax[i]))
      .attr("stroke", "#FF0000").attr("stroke-width", 1.4);
    svg.append("text").attr("x", p.l + 4).attr("y", p.y(tensionMax[i]) - 3)
      .attr("font-size", 13.2).attr("fill", "#FF0000").text(tensionMaxLabel[i]);
  }
});
yLabel(2, "Muscle tension [N]", 13.8, 18.5);

const legend2X = [439, 487, 535, 583, 631, 679, 728, 777, 824, 873];
tensionNames.forEach((name, k) => {
  svg.append("line").attr("x1", legend2X[k]).attr("x2", legend2X[k] + 17)
    .attr("y1", 624.5).attr("y2", 624.5).attr("stroke", tensionColors[k]).attr("stroke-width", 1.5);
  svg.append("text").attr("x", legend2X[k] + 18).attr("y", 629).attr("font-size", 13.3).text(name);
});
</script>
</body>
</html>
